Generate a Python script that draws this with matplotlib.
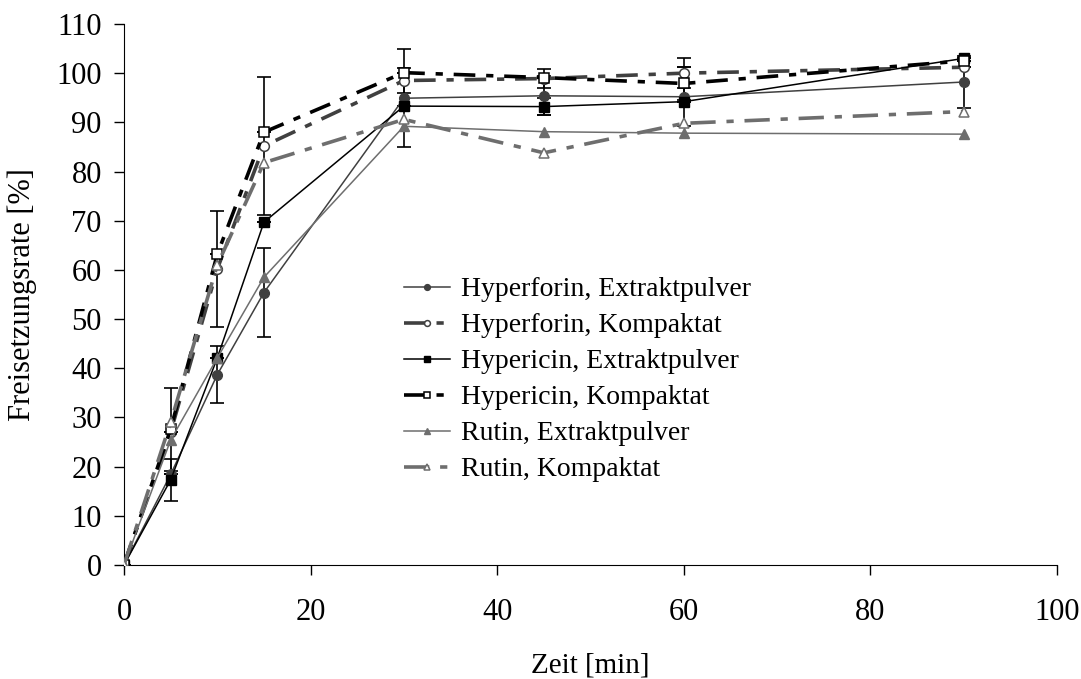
import matplotlib
matplotlib.use("Agg")
import matplotlib.pyplot as plt

plt.rcParams['font.family'] = ['Liberation Serif', 'DejaVu Serif']

# Freisetzung ueber die Zeit
zeit = [0, 5, 10, 15, 30, 45, 60, 90]

hyperforin_ep = [0, 18.4, 38.7, 55.4, 94.9, 95.4, 95.2, 98.2]
hyperforin_k = [0, 27.0, 60.2, 85.2, 98.5, 98.9, 100.0, 101.2]
hypericin_ep = [0, 17.3, 42.1, 69.7, 93.3, 93.2, 94.2, 103.0]
hypericin_k = [0, 27.6, 63.2, 88.0, 100.1, 99.1, 97.9, 102.5]
rutin_ep = [0, 25.4, 42.1, 58.5, 89.2, 88.1, 87.8, 87.6]
rutin_k = [0, 29.0, 61.0, 81.8, 90.6, 83.8, 89.8, 92.2]

# Standardabweichungen
err_hyperforin_ep = [0, 0, 5.8, 9.0, 10.0, 4.0, 6.0, 5.2]
err_hyperforin_k = [0, 0, 11.8, 14.0, 2.6, 2.0, 3.0, 0]
err_hypericin_ep = [0, 4.3, 0, 0, 0, 1.8, 0, 0]
err_hypericin_k = [0, 8.4, 0, 0, 0, 0, 3.4, 0]

fig = plt.figure(figsize=(10.81, 6.79), dpi=100)
ax = fig.add_axes([0.1147, 0.1679, 0.8631, 0.7968])

dunkel = '#404040'
mittel = '#6e6e6e'
strichpunkt = (0, (6, 3, 2, 3))

# Fehlerbalken zuerst, ohne Legende
for y, e in [(hyperforin_ep, err_hyperforin_ep), (hyperforin_k, err_hyperforin_k),
             (hypericin_ep, err_hypericin_ep), (hypericin_k, err_hypericin_k)]:
    ax.errorbar(zeit, y, yerr=e, fmt='none', ecolor='black', elinewidth=1.2,
                capsize=5, capthick=1.2, zorder=2)

ax.plot(zeit, hyperforin_ep, color=dunkel, lw=1.1, marker='o', ms=7, mfc=dunkel, mec=dunkel,
        label='Hyperforin, Extraktpulver', zorder=3)
ax.plot(zeit, hyperforin_k, color=dunkel, lw=2.6, ls=strichpunkt, marker='o', ms=7,
        mfc='white', mec=dunkel, mew=1.1, label='Hyperforin, Kompaktat', zorder=3)
ax.plot(zeit, hypericin_ep, color='black', lw=1.1, marker='s', ms=7, mfc='black', mec='black',
        label='Hypericin, Extraktpulver', zorder=3)
ax.plot(zeit, hypericin_k, color='black', lw=2.6, ls=strichpunkt, marker='s', ms=7,
        mfc='white', mec='black', mew=1.1, label='Hypericin, Kompaktat', zorder=3)
ax.plot(zeit, rutin_ep, color=mittel, lw=1.1, marker='^', ms=7, mfc=mittel, mec=mittel,
        label='Rutin, Extraktpulver', zorder=3)
ax.plot(zeit, rutin_k, color=mittel, lw=2.6, ls=(0, (7, 3, 2, 3)), marker='^', ms=7,
        mfc='white', mec=mittel, mew=1.1, label='Rutin, Kompaktat', zorder=3)

ax.set_xlim(0, 100)
ax.set_ylim(0, 110)
ax.set_xticks(range(0, 101, 20))
ax.set_yticks(range(0, 111, 10))
ax.spines['top'].set_visible(False)
ax.spines['right'].set_visible(False)
ax.tick_params(direction='out', length=7, width=1, labelsize=22)
ax.tick_params(axis='y', pad=9)
ax.tick_params(axis='x', pad=17)
ax.set_xlabel('Zeit [min]', fontsize=21, labelpad=18)
ax.set_ylabel('Freisetzungsrate [%]', fontsize=22, labelpad=14)

ax.legend(loc='upper left', bbox_to_anchor=(0.3737, 0.592), bbox_transform=fig.transFigure,
          frameon=False, fontsize=20, handlelength=1.65, handletextpad=0.4,
          labelspacing=0.38, markerscale=0.6, borderpad=0, borderaxespad=0)

fig.savefig('out.png', dpi=100)
